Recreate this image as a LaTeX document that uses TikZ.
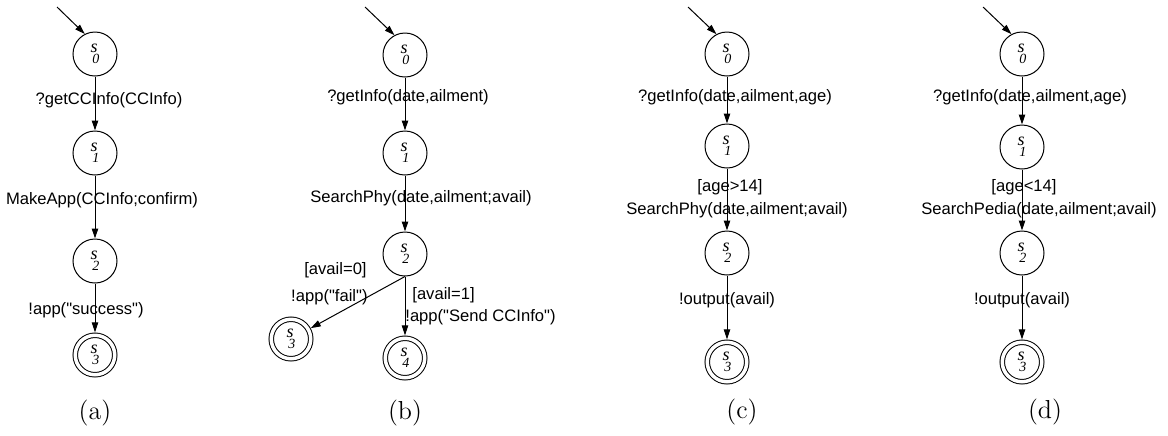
\documentclass[tikz,border=0pt]{standalone}
\usepackage{fontspec}
\usepackage{tikz}
\usetikzlibrary{arrows.meta}
\newfontfamily\lblfont{Liberation Sans}
\newfontfamily\stfont{Liberation Serif}
\newcommand\sn[1]{\textit{s}\kern-2.6pt\raisebox{-5.5pt}{\fontsize{7}{8}\selectfont\textit{#1}}}

\begin{document}
\begin{tikzpicture}[x=0.5pt,y=-0.5pt,
  st/.style={draw,circle,minimum size=22pt,inner sep=0pt,line width=0.5pt,font=\stfont\fontsize{9}{10}\selectfont},
  fin/.style={st,double,double distance=1.75pt,minimum size=19.75pt,outer sep=1.4pt},
  lbl/.style={font=\lblfont\fontsize{8.3}{10}\selectfont,inner sep=0pt},
  subcap/.style={font=\fontsize{13}{15}\selectfont,inner sep=0pt},
  arr/.style={-{Triangle[length=5pt,width=3.2pt]},line width=0.5pt}]
\useasboundingbox (0,0) rectangle (1168,435);
% (a)
\node[st] (a0) at (95,54) {\sn{0}};
\node[st] (a1) at (95,153) {\sn{1}};
\node[st] (a2) at (95,261) {\sn{2}};
\node[fin] (a3) at (95,355) {\sn{3}};
\coordinate (ain) at (57,7);
\node[lbl] (la1) at (109,100) {?getCCInfo(CCInfo)};
\node[lbl] (la2) at (102,200) {MakeApp(CCInfo;confirm)};
\node[lbl] (la3) at (86,310) {!app("success")};
\node[subcap] (capa) at (95,413) {(a)};
\draw[arr] (ain) -- (a0.117);
\draw[arr] (a0) -- (a1); \draw[arr] (a1) -- (a2); \draw[arr] (a2) -- (a3);
% (b)
\node[st] (b0) at (405,55) {\sn{0}};
\node[st] (b1) at (405,153) {\sn{1}};
\node[st] (b2) at (405,254) {\sn{2}};
\node[fin] (b3) at (291,339) {\sn{3}};
\node[fin] (b4) at (405,358) {\sn{4}};
\coordinate (bin) at (365,7);
\node[lbl] (lb1) at (408,97) {?getInfo(date,ailment)};
\node[lbl] (lb2) at (421,198) {SearchPhy(date,ailment;avail)};
\node[lbl,anchor=east] (lb3) at (367,270) {[avail=0]};
\node[lbl,anchor=east] (lb4) at (368,297) {!app("fail")};
\node[lbl,anchor=west] (lb5) at (412,295) {[avail=1]};
\node[lbl,anchor=west] (lb6) at (405,317) {!app("Send CCInfo")};
\node[subcap] (capb) at (405,413) {(b)};
\draw[arr] (bin) -- (b0.118);
\draw[arr] (b0) -- (b1); \draw[arr] (b1) -- (b2);
\draw[arr] (b2.south) -- (b3); \draw[arr] (b2) -- (b4);
% (c)
\node[st] (c0) at (727,54) {\sn{0}};
\node[st] (c1) at (727,146) {\sn{1}};
\node[st] (c2) at (727,253) {\sn{2}};
\node[fin] (c3) at (727,362) {\sn{3}};
\coordinate (cin) at (688,7);
\node[lbl] (lc1) at (735,97) {?getInfo(date,ailment,age)};
\node[lbl] (lc2) at (730,187) {[age>14]};
\node[lbl] (lc3) at (737,210) {SearchPhy(date,ailment;avail)};
\node[lbl] (lc4) at (727,300) {!output(avail)};
\node[subcap] (capc) at (742,412) {(c)};
\draw[arr] (cin) -- (c0.118);
\draw[arr] (c0) -- (c1); \draw[arr] (c1) -- (c2); \draw[arr] (c2) -- (c3);
% (d)
\node[st] (d0) at (1022,54) {\sn{0}};
\node[st] (d1) at (1022,147) {\sn{1}};
\node[st] (d2) at (1022,253) {\sn{2}};
\node[fin] (d3) at (1022,362) {\sn{3}};
\coordinate (din) at (983,7);
\node[lbl] (ld1) at (1030,97) {?getInfo(date,ailment,age)};
\node[lbl] (ld2) at (1024,187) {[age<14]};
\node[lbl] (ld3) at (1039,210) {SearchPedia(date,ailment;avail)};
\node[lbl] (ld4) at (1022,300) {!output(avail)};
\node[subcap] (capd) at (1045,412) {(d)};
\draw[arr] (din) -- (d0.118);
\draw[arr] (d0) -- (d1); \draw[arr] (d1) -- (d2); \draw[arr] (d2) -- (d3);
\end{tikzpicture}
\end{document}
